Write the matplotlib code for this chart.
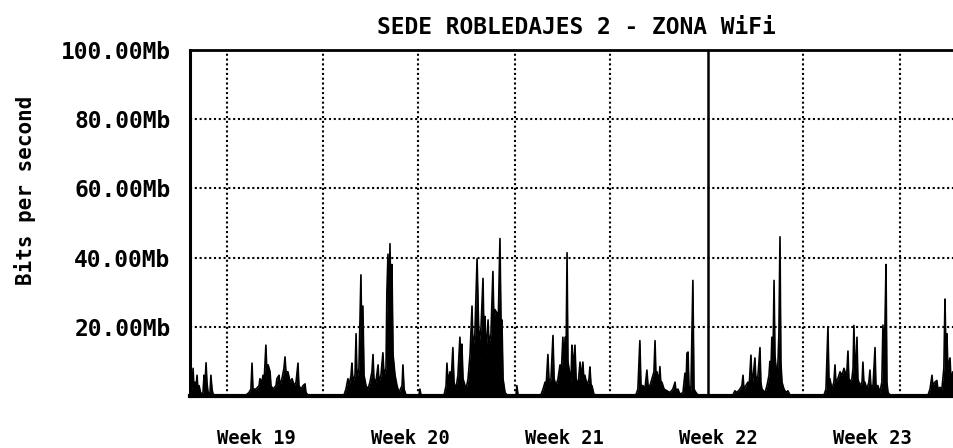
import numpy as np
import matplotlib
matplotlib.use("Agg")
import matplotlib.pyplot as plt

# Traffic samples: time in days from the start of the graph, rate in Mb/s
day_a = [0.02, 0.09, 0.14, 0.18, 0.23, 0.27, 0.32, 0.36, 0.41, 0.50, 0.59, 0.64, 0.68, 0.73,
         0.77, 0.82, 0.91, 0.95, 1.00, 1.05, 1.14]
mb_a = [3, 2, 8, 2, 4, 2, 6, 2, 3, 0.5, 1, 6, 3, 9.6, 4, 1, 1, 6, 2, 0.5, 0.3]

day_b = [2.55, 2.68, 2.77, 2.82, 2.86, 3.00, 3.14, 3.18, 3.27, 3.32, 3.36, 3.45, 3.50, 3.55,
         3.64, 3.68, 3.77, 3.91, 3.95, 4.05, 4.09, 4.18, 4.27, 4.32, 4.36, 4.45, 4.55, 4.64,
         4.73, 4.82, 4.91, 4.95, 5.05, 5.14, 5.23, 5.27, 5.36]
mb_b = [0.3, 1, 2, 9.5, 2, 2, 3, 5, 4, 6, 3, 14.7, 6, 9, 7, 3, 2, 3, 5, 6, 3, 5, 8, 11.3, 7,
        7, 4, 5, 3, 4, 9.5, 3, 2, 3, 3.5, 1, 0.3]

day_c = [7.00, 7.09, 7.18, 7.23, 7.32, 7.36, 7.41, 7.50, 7.55, 7.59, 7.68, 7.77, 7.82, 7.86,
         7.91, 8.00, 8.09, 8.18, 8.27, 8.32, 8.36, 8.45, 8.55, 8.59, 8.68, 8.77, 8.82, 8.91,
         8.95, 9.00, 9.05, 9.09, 9.14, 9.18, 9.23, 9.32, 9.41, 9.50, 9.64, 9.68, 9.73, 9.82,
         10.41, 10.45, 10.50]
mb_c = [0.3, 2, 5, 3, 6, 9.5, 4, 6, 18, 5, 8, 35, 10, 26, 6, 3, 2, 4, 7, 12, 5, 4, 9, 4, 6,
        12.5, 6, 8, 30, 41, 20, 44, 25, 38, 12, 6, 3, 1, 3, 9, 2, 0.3, 0.3, 2, 0.3]

day_d = [11.55, 11.64, 11.68, 11.73, 11.82, 11.86, 11.95, 12.00, 12.09, 12.18, 12.27, 12.32,
         12.36, 12.41, 12.55, 12.64, 12.73, 12.82, 12.86, 12.95, 13.05, 13.09, 13.14, 13.23,
         13.32, 13.36, 13.41, 13.45, 13.55, 13.59, 13.68, 13.77, 13.82, 13.86, 13.95, 14.00,
         14.09, 14.14, 14.18, 14.23, 14.32, 14.41, 14.82, 14.86, 14.91]
mb_d = [0.3, 3, 9.5, 4, 7, 3, 14, 4, 2, 6, 17, 8, 15, 5, 2, 5, 12, 26, 14, 18, 39.7, 28, 15,
        20, 34, 18, 23, 12, 22, 15, 18, 36, 20, 25, 24, 18, 45.5, 20, 22, 5, 1, 0.3, 0.3, 3,
        0.3]

day_e = [15.95, 16.05, 16.14, 16.18, 16.27, 16.32, 16.41, 16.50, 16.55, 16.64, 16.73, 16.82,
         16.86, 16.95, 17.00, 17.05, 17.09, 17.14, 17.18, 17.27, 17.32, 17.36, 17.41, 17.50,
         17.55, 17.64, 17.73, 17.77, 17.86, 17.91, 17.95, 18.05, 18.14, 18.18, 18.23, 18.27,
         18.36, 18.45]
mb_e = [0.3, 2, 4, 2, 12, 4, 5, 17.5, 5, 3, 5, 9, 4, 17, 8, 17, 8, 41.4, 10, 6, 4, 14.7, 8,
        14.7, 5, 3, 9.8, 5, 9.8, 4, 6, 3, 5, 8.4, 3, 3, 0.5, 0.3]

day_f = [20.27, 20.36, 20.45, 20.50, 20.59, 20.68, 20.77, 20.82, 20.91, 21.00, 21.09, 21.14,
         21.18, 21.23, 21.32, 21.36, 21.41, 21.45, 21.55, 21.68, 21.82, 21.95, 22.05, 22.09,
         22.18, 22.27, 22.41, 22.50, 22.55, 22.59, 22.64, 22.68, 22.77, 22.86, 22.91, 23.00,
         23.09]
mb_f = [0.3, 2, 16, 3, 3, 2, 7.5, 3, 3, 5, 7, 16, 6, 7, 4, 8.5, 3, 4, 2, 1.5, 1, 2, 4, 1.5,
        2, 0.5, 1, 6.6, 3, 12.4, 12.7, 3, 1.5, 33.4, 2, 1, 0.3]

day_g = [24.68, 24.77, 24.86, 25.00, 25.09, 25.14, 25.18, 25.27, 25.36, 25.41, 25.50, 25.55,
         25.59, 25.68, 25.73, 25.82, 25.91, 25.95, 26.00, 26.14, 26.23, 26.32, 26.36, 26.41,
         26.45, 26.50, 26.55, 26.59, 26.64, 26.68, 26.73, 26.77, 26.82, 26.86, 26.91, 27.00,
         27.09, 27.18, 27.27]
mb_g = [0.3, 1.5, 1, 2, 3, 6, 2, 3, 4, 2, 11.8, 3, 5, 11, 4, 6, 14, 4, 2, 1, 3, 6, 10, 8, 17,
        10, 33.4, 12, 8, 5, 10, 18, 46, 10, 4, 2, 1, 1.5, 0.3]

day_h = [28.82, 28.91, 29.00, 29.05, 29.09, 29.18, 29.27, 29.32, 29.36, 29.45, 29.55, 29.64,
         29.73, 29.82, 29.86, 29.91, 29.95, 30.00, 30.09, 30.14, 30.18, 30.23, 30.27, 30.32,
         30.36, 30.45, 30.55, 30.59, 30.64, 30.68, 30.77, 30.86, 30.91, 30.95, 31.05, 31.14,
         31.18, 31.27, 31.36, 31.45, 31.50, 31.55, 31.59, 31.64, 31.68, 31.73, 31.82]
mb_h = [0.3, 2, 20, 3, 5, 2, 4, 9, 4, 5, 7, 6, 8, 6, 7, 13, 5, 4, 5, 8, 20.4, 7, 9, 17, 5, 3,
        4, 9.8, 3, 4, 2, 4, 7.5, 3, 3, 14, 3, 3, 1, 4, 20.5, 12, 20, 38, 4, 1, 0.3]

day_i = [33.55, 33.64, 33.73, 33.77, 33.86, 33.95, 34.00, 34.09, 34.18, 34.27, 34.32, 34.36,
         34.41, 34.45, 34.55, 34.59, 34.68, 34.73]
mb_i = [0.3, 2, 6, 3, 4, 4.5, 2, 2.5, 2, 8, 28, 14, 18, 8, 11, 5, 7, 3]

# Axis annotations
week_labels = ["Week 19", "Week 20", "Week 21", "Week 22", "Week 23"]
week_centers = [3, 10, 17, 24, 31]
grid_days = [1.68, 6.05, 10.36, 14.77, 19.09, 27.86, 32.27]
marker_day = 23.55
y_ticks = [20, 40, 60, 80, 100]
y_tick_labels = ["20.00Mb", "40.00Mb", "60.00Mb", "80.00Mb", "100.00Mb"]
title = "SEDE ROBLEDAJES 2 - ZONA WiFi"
x_end = 34.73

days = np.array(day_a + day_b + day_c + day_d + day_e + day_f + day_g + day_h + day_i)
mbps = np.array(mb_a + mb_b + mb_c + mb_d + mb_e + mb_f + mb_g + mb_h + mb_i)

mono = "DejaVu Sans Mono"
dots = (0, (1, 1.3))

fig = plt.figure(figsize=(9.54, 4.48), dpi=100)
ax = fig.add_axes([190 / 954, 52 / 448, 1 - 190 / 954, 346 / 448])

ax.set_xlim(0, x_end)
ax.set_ylim(0, 100)

# dotted grid
for y in y_ticks[:-1]:
    ax.axhline(y, color="black", lw=1.5, ls=dots, zorder=1)
for d in grid_days:
    ax.axvline(d, color="black", lw=1.5, ls=dots, zorder=1)
ax.axvline(marker_day, color="black", lw=1.8, zorder=3)

ax.fill_between(days, 0, mbps, color="black", lw=0, zorder=2)
ax.plot(days, mbps, color="black", lw=1.2, zorder=2)

ax.spines["right"].set_visible(False)
ax.spines["left"].set_linewidth(2.2)
ax.spines["top"].set_linewidth(2.0)
ax.spines["bottom"].set_linewidth(3.0)

ax.set_yticks(y_ticks)
ax.set_yticklabels(y_tick_labels, fontfamily=mono, fontweight="bold", fontsize=16.5)
ax.tick_params(axis="y", length=0, pad=14)
ax.set_xticks(week_centers)
ax.set_xticklabels(week_labels, fontfamily=mono, fontweight="bold", fontsize=13.5)
ax.tick_params(axis="x", length=0, pad=24)

fig.text(25 / 954, 1 - 190 / 448, "Bits per second", rotation=90, ha="center", va="center",
         fontfamily=mono, fontweight="bold", fontsize=15)
fig.text(576 / 954, 1 - 28 / 448, title, ha="center", va="center",
         fontfamily=mono, fontweight="bold", fontsize=16.5)

fig.savefig("out.png", dpi=100, facecolor="white")
